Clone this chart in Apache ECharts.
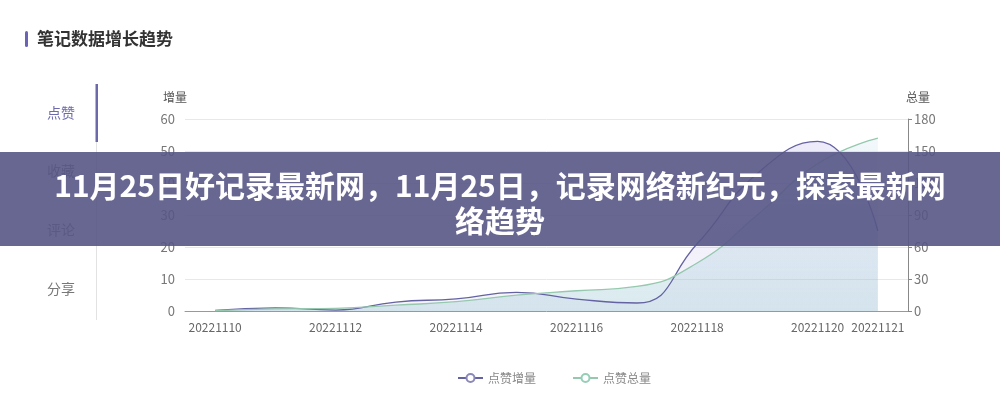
<!DOCTYPE html>
<html>
<head>
<meta charset="utf-8">
<script src="https://cdn.jsdelivr.net/npm/echarts@6/dist/echarts.min.js"></script>
<style>
html,body{margin:0;padding:0;background:#fff;}
#chart{width:1000px;height:400px;}
</style>
</head>
<body>
<div id="chart"></div>
<script>
const days = ['20221110','20221111','20221112','20221113','20221114','20221115','20221116','20221117','20221118','20221119','20221120','20221121'];
const likeIncrease = [0.2, 1, 0.3, 2.8, 3.8, 5.8, 3.7, 2.5, 21, 43, 53, 25];
const likeTotal = [0.3, 2, 2.5, 5.5, 8.7, 14.8, 19, 23, 45, 90, 138, 162];
const leftTicks = {min: 0, max: 60, interval: 10};
const rightTicks = {min: 0, max: 180, interval: 30};
const navItems = ['点赞', '收藏', '评论', '分享'];
const heading = '笔记数据增长趋势';
const bannerLines = ['11月25日好记录最新网，11月25日，记录网络新纪元，探索最新网', '络趋势'];
const seriesNames = ['点赞增量', '点赞总量'];
const axisNames = ['增量', '总量'];

const FONT = '"Noto Sans CJK SC", "Noto Sans", sans-serif';
const showLabel = (i) => i % 2 === 0 || i === days.length - 1;

const chart = echarts.init(document.getElementById('chart'));
const navY = [113, 171, 230, 289];
const graphics = [
  {type: 'rect', shape: {x: 25, y: 31, width: 3, height: 16, r: 1.5}, style: {fill: '#6a63b8'}},
  {type: 'text', x: 37, y: 39, style: {text: heading, fill: '#333', font: 'bold 17px ' + FONT, textVerticalAlign: 'middle'}},
  {type: 'rect', shape: {x: 96, y: 84, width: 1, height: 236}, style: {fill: '#e2e2e2'}},
  {type: 'rect', shape: {x: 95.5, y: 84, width: 2.5, height: 58}, style: {fill: '#6c69ab'}}
];
navItems.forEach((t, i) => {
  graphics.push({type: 'text', x: 61, y: navY[i], style: {text: t, fill: i === 0 ? '#6d6aab' : '#777', font: '14px ' + FONT, textAlign: 'center', textVerticalAlign: 'middle'}});
});
graphics.push({type: 'rect', z: 100, shape: {x: 0, y: 152, width: 1000, height: 94}, style: {fill: 'rgba(88,86,134,0.9)'}});
graphics.push({type: 'text', z: 101, x: 500, y: 186, style: {text: bannerLines[0], fill: '#fff', font: 'bold 30px ' + FONT, textAlign: 'center', textVerticalAlign: 'middle'}});
graphics.push({type: 'text', z: 101, x: 500, y: 221, style: {text: bannerLines[1], fill: '#fff', font: 'bold 30px ' + FONT, textAlign: 'center', textVerticalAlign: 'middle'}});

chart.setOption({
  animation: false,
  textStyle: {fontFamily: FONT},
  grid: {left: 185, right: 92, top: 119, bottom: 89},
  legend: {
    left: 452, top: 367, itemGap: 36, itemWidth: 25, itemHeight: 10,
    textStyle: {color: '#888', fontSize: 12},
    data: seriesNames
  },
  xAxis: {
    type: 'category', data: days, boundaryGap: true,
    axisLine: {lineStyle: {color: '#999'}},
    axisTick: {alignWithLabel: true, interval: (i) => showLabel(i), lineStyle: {color: '#999'}},
    axisLabel: {interval: (i) => showLabel(i), color: '#666', fontSize: 12, margin: 10}
  },
  yAxis: [
    {
      type: 'value', name: axisNames[0], min: leftTicks.min, max: leftTicks.max, interval: leftTicks.interval,
      nameTextStyle: {color: '#555', fontSize: 12, padding: [0, 20, 0, 0]}, nameGap: 16,
      axisLine: {show: false}, axisTick: {show: false},
      axisLabel: {color: '#777', fontSize: 13, margin: 10},
      splitLine: {lineStyle: {color: '#e8e8e8'}}
    },
    {
      type: 'value', name: axisNames[1], min: rightTicks.min, max: rightTicks.max, interval: rightTicks.interval,
      nameTextStyle: {color: '#555', fontSize: 12, padding: [0, 0, 0, 20]}, nameGap: 16,
      axisLine: {show: true, lineStyle: {color: '#888'}},
      axisTick: {show: true, length: 4, lineStyle: {color: '#888'}},
      axisLabel: {color: '#777', fontSize: 13, margin: 6},
      splitLine: {show: false}
    }
  ],
  series: [
    {
      name: seriesNames[0], type: 'line', yAxisIndex: 0, data: likeIncrease, smooth: true,
      symbol: 'emptyCircle', symbolSize: 8, showSymbol: false,
      itemStyle: {color: '#8a88b8'},
      lineStyle: {color: '#6462a2', width: 1.3},
      areaStyle: {color: new echarts.graphic.LinearGradient(0, 0, 0, 1, [
        {offset: 0, color: 'rgba(150,140,220,0.25)'},
        {offset: 1, color: 'rgba(150,140,220,0.12)'}
      ])}
    },
    {
      name: seriesNames[1], type: 'line', yAxisIndex: 1, data: likeTotal, smooth: true,
      symbol: 'emptyCircle', symbolSize: 8, showSymbol: false,
      itemStyle: {color: '#95cdb6'},
      lineStyle: {color: '#95c8ae', width: 1.3},
      areaStyle: {color: new echarts.graphic.LinearGradient(0, 0, 0, 1, [
        {offset: 0, color: 'rgba(200,225,235,0.35)'},
        {offset: 1, color: 'rgba(150,195,210,0.5)'}
      ])}
    }
  ],
  graphic: graphics
});
</script>
</body>
</html>
